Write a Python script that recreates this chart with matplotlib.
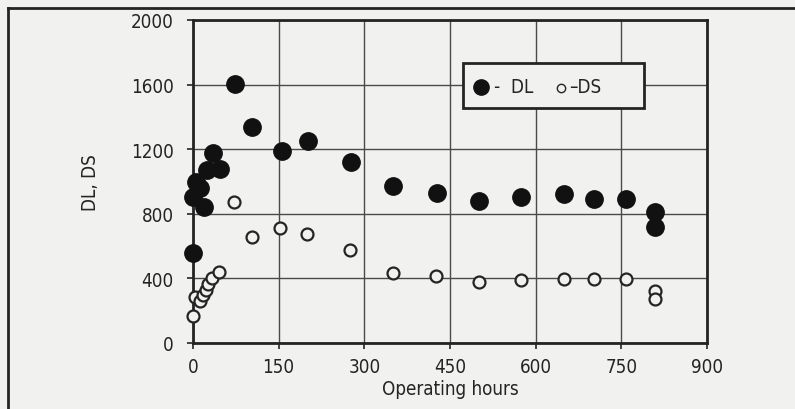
import matplotlib
matplotlib.use("Agg")
import matplotlib.pyplot as plt
from matplotlib.lines import Line2D
from matplotlib.patches import Rectangle

plt.rcParams['font.family'] = ['DejaVu Sans']
plt.rcParams['font.stretch'] = 'condensed'

# Operating hours and measured values
dl_hours = [0, 0, 5, 12, 20, 24, 35, 47, 73, 104, 155, 202, 277, 351, 427,
            500, 574, 650, 702, 758, 809, 809]
dl_values = [555, 905, 1000, 960, 840, 1070, 1178, 1078, 1605, 1338, 1189, 1248,
             1120, 970, 930, 879, 903, 924, 893, 893, 810, 717]

ds_hours = [0, 3, 12, 17, 22, 27, 34, 46, 71, 103, 152, 200, 275, 351, 425,
            500, 574, 650, 702, 758, 809, 809]
ds_values = [165, 285, 262, 300, 330, 365, 400, 438, 872, 658, 710, 672,
             573, 432, 413, 376, 387, 397, 397, 397, 320, 273]

x_ticks = [0, 150, 300, 450, 600, 750, 900]
y_ticks = [0, 400, 800, 1200, 1600, 2000]

bg = '#f1f1ef'
ink = '#242424'
fs = 13.5

fig = plt.figure(figsize=(7.95, 4.10), dpi=100, facecolor=bg)
ax = fig.add_axes([193 / 795, 1 - 344 / 410, (707 - 193) / 795, (344 - 21) / 410])
ax.set_facecolor(bg)

ax.set_xlim(0, 900)
ax.set_ylim(0, 2000)
ax.set_xticks(x_ticks)
ax.set_yticks(y_ticks)
ax.grid(True, color='#4a4a4a', linewidth=1.0)
ax.set_axisbelow(True)

for side in ax.spines.values():
    side.set_color(ink)
    side.set_linewidth(2.0)

ax.tick_params(axis='both', colors=ink, labelcolor=ink, labelsize=fs,
               length=4, width=1.2, direction='out')
ax.tick_params(axis='y', pad=10)
ax.tick_params(axis='x', pad=6)

ax.plot(ds_hours, ds_values, linestyle='none', marker='o', markersize=8.6,
        markerfacecolor=bg, markeredgecolor=ink, markeredgewidth=1.6, zorder=3,
        clip_on=False)
ax.plot(dl_hours, dl_values, linestyle='none', marker='o', markersize=12.5,
        markerfacecolor='#111111', markeredgecolor='#111111', zorder=4,
        clip_on=False)

ax.set_xlabel('Operating hours', fontsize=fs, color=ink, labelpad=2)
ax.set_ylabel('DL, DS', fontsize=fs, color=ink, labelpad=22)

# Legend box drawn inside the axes
lx0, ly0 = (463 - 193) / 514, (344 - 109) / 323
lw, lh = (644 - 463) / 514, (109 - 64) / 323
ax.add_patch(Rectangle((lx0, ly0), lw, lh, transform=ax.transAxes,
                       facecolor=bg, edgecolor=ink, linewidth=2.0, zorder=5))
ax.plot([(481 - 193) / 514], [(344 - 88) / 323], transform=ax.transAxes,
        marker='o', markersize=11, color='#111111', linestyle='none', zorder=6)
ax.text((494 - 193) / 514, (344 - 88) / 323, '-  DL', transform=ax.transAxes,
        fontsize=fs, color=ink, va='center', ha='left', zorder=6)
ax.plot([(561 - 193) / 514], [(344 - 89) / 323], transform=ax.transAxes,
        marker='o', markersize=6, markerfacecolor=bg, markeredgecolor=ink,
        markeredgewidth=1.0, linestyle='none', zorder=6)
ax.text((569 - 193) / 514, (344 - 88) / 323, '–DS', transform=ax.transAxes,
        fontsize=fs, color=ink, va='center', ha='left', zorder=6)

# Outer frame (left and top edges)
fig.add_artist(Line2D([8 / 795, 8 / 795], [0, 1 - 9 / 410], transform=fig.transFigure,
                      color=ink, linewidth=2.0))
fig.add_artist(Line2D([8 / 795, 1], [1 - 9 / 410, 1 - 9 / 410], transform=fig.transFigure,
                      color=ink, linewidth=2.0))

fig.savefig('out.png', dpi=100, facecolor=bg)
